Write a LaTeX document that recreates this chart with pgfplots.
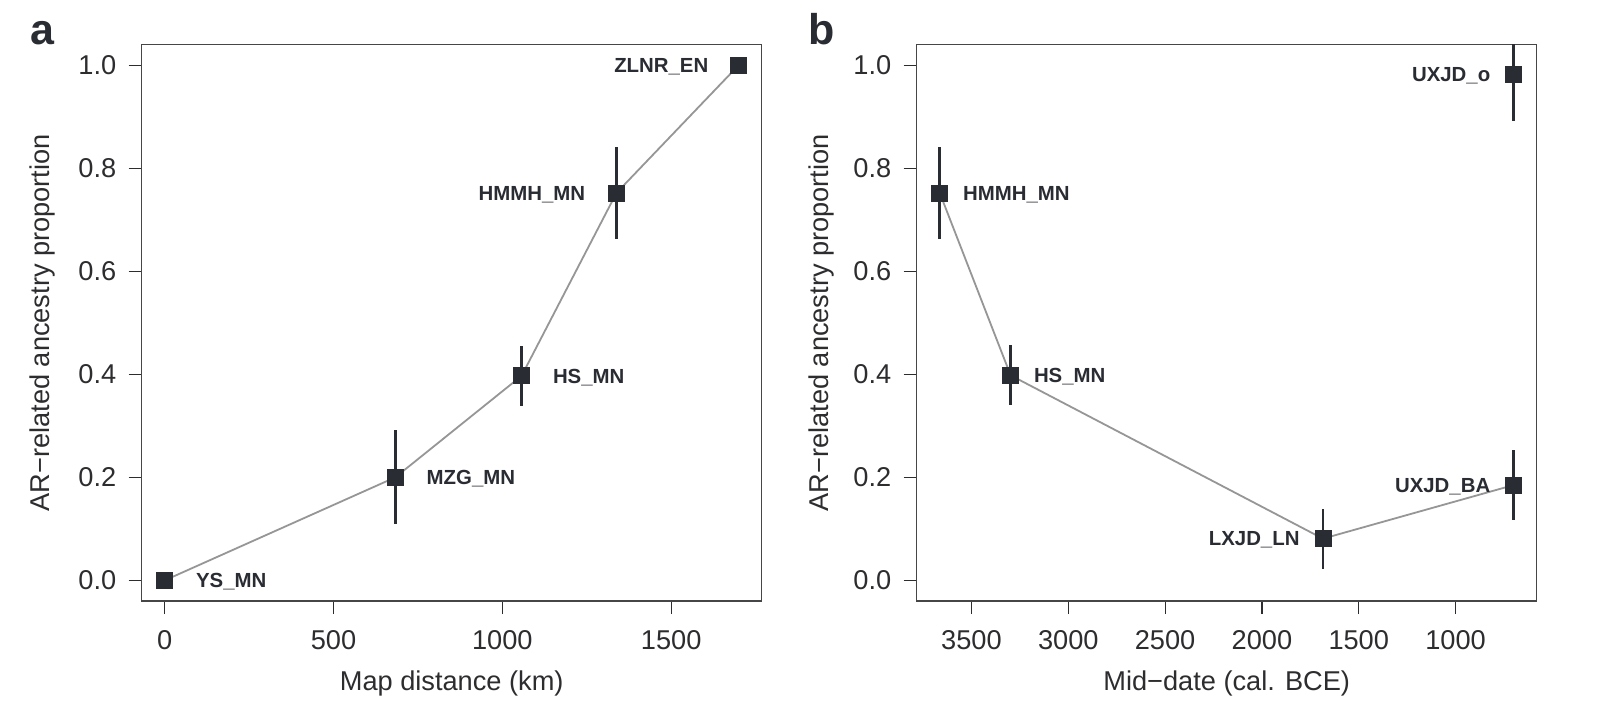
\documentclass[border=0pt]{standalone}
\usepackage{fontspec}
\setmainfont{Liberation Sans}
\usepackage{pgfplots}
\usepackage{pgfplotstable}
\pgfplotsset{compat=1.18}

\definecolor{ink}{RGB}{42,44,51}
\definecolor{txt}{RGB}{45,45,48}
\definecolor{linegray}{RGB}{150,150,150}
\definecolor{frame}{RGB}{70,70,72}

% panel a: map distance (km), proportion, error
\pgfplotstableread{
x    y     e
0    0.000 0.000
683  0.200 0.091
1057 0.397 0.058
1338 0.752 0.090
1700 1.000 0.000
}\dista
% panel b: mid-date (cal. BCE)
\pgfplotstableread{
x    y     e
3664 0.752 0.090
3298 0.398 0.058
1685 0.081 0.058
700  0.185 0.068
700  0.982 0.091
}\dateb
\pgfplotstableread{
x    y
3664 0.752
3298 0.398
1685 0.081
700  0.185
}\lineb

\pgfplotsset{
  panel/.style={
    scale only axis, width=310pt, height=278.25pt,
    anchor=south west,
    ymin=-0.04, ymax=1.04,
    ytick={0,0.2,0.4,0.6,0.8,1},
    yticklabel style={/pgf/number format/fixed, /pgf/number format/fixed zerofill,
                      /pgf/number format/precision=1},
    tick align=outside, major tick length=6.5pt,
    xtick pos=lower, ytick pos=left,
    axis line style={frame, line width=0.7pt},
    tick style={txt, line width=0.6pt},
    /pgf/number format/assume math mode=true,
    /pgf/number format/1000 sep={},
    every tick label/.append style={font=\fontsize{13.6}{16}\selectfont, text=txt},
    yticklabel style={inner sep=0pt, xshift=-6pt},
    xticklabel style={inner sep=0pt, yshift=-8pt},
    label style={font=\fontsize{13.6}{16}\selectfont, text=txt, inner sep=0pt},
    xlabel style={at={([yshift=-34.5pt]axis description cs:0.5,0)}, anchor=north},
    ylabel={AR−related ancestry proportion},
  },
  connline/.style={linegray, line width=0.9pt, no marks},
  pts/.style={only marks, mark=square*, mark size=4pt, ink,
    error bars/.cd, y dir=both, y explicit, error mark=none,
    error bar style={line width=1.35pt, ink}},
}
\tikzset{lbl/.style={font=\bfseries\fontsize{10.2}{12}\selectfont, text=ink, inner sep=0pt}}

\begin{document}
\begin{tikzpicture}
\path[use as bounding box] (0,0) rectangle (801pt,351.5pt);

\node[anchor=base west, inner sep=0pt, text=ink,
      font=\bfseries\fontsize{21.5}{24}\selectfont] at (15pt,329pt) {a};
\node[anchor=base west, inner sep=0pt, text=ink,
      font=\bfseries\fontsize{21.5}{24}\selectfont] at (404pt,329pt) {b};

\begin{axis}[panel, at={(70.85pt,51pt)},
    xmin=-68, xmax=1768, xtick={0,500,1000,1500},
    xlabel={Map distance (km)},
    ylabel style={at={([xshift=-49.4pt]axis description cs:0,0.5)}, anchor=center}]
  \addplot[connline] table[x=x, y=y] {\dista};
  \addplot[pts] table[x=x, y=y, y error=e] {\dista};
  \node[lbl, anchor=base west, xshift=15.5pt, yshift=-3.6pt] at (axis cs:0,0) {YS\_MN};
  \node[lbl, anchor=base west, xshift=15.5pt, yshift=-3.6pt] at (axis cs:683,0.2) {MZG\_MN};
  \node[lbl, anchor=base west, xshift=15.5pt, yshift=-3.6pt] at (axis cs:1057,0.397) {HS\_MN};
  \node[lbl, anchor=base east, xshift=-15.5pt, yshift=-3.6pt] at (axis cs:1338,0.752) {HMMH\_MN};
  \node[lbl, anchor=base east, xshift=-15pt, yshift=-3.6pt] at (axis cs:1700,1) {ZLNR\_EN};
\end{axis}

\begin{axis}[panel, at={(458.35pt,51pt)},
    x dir=reverse, xmin=581, xmax=3783,
    xtick={1000,1500,2000,2500,3000,3500},
    xlabel={Mid−date (cal. BCE)},
    ylabel style={at={([xshift=-47.8pt]axis description cs:0,0.5)}, anchor=center}]
  \addplot[connline] table[x=x, y=y] {\lineb};
  \addplot[pts] table[x=x, y=y, y error=e] {\dateb};
  \node[lbl, anchor=base west, xshift=11.5pt, yshift=-3.6pt] at (axis cs:3664,0.752) {HMMH\_MN};
  \node[lbl, anchor=base west, xshift=11.5pt, yshift=-3.6pt] at (axis cs:3298,0.398) {HS\_MN};
  \node[lbl, anchor=base east, xshift=-11.5pt, yshift=-3.6pt] at (axis cs:1685,0.081) {LXJD\_LN};
  \node[lbl, anchor=base east, xshift=-11.5pt, yshift=-3.6pt] at (axis cs:700,0.185) {UXJD\_BA};
  \node[lbl, anchor=base east, xshift=-11.5pt, yshift=-3.6pt] at (axis cs:700,0.982) {UXJD\_o};
\end{axis}
\end{tikzpicture}
\end{document}
